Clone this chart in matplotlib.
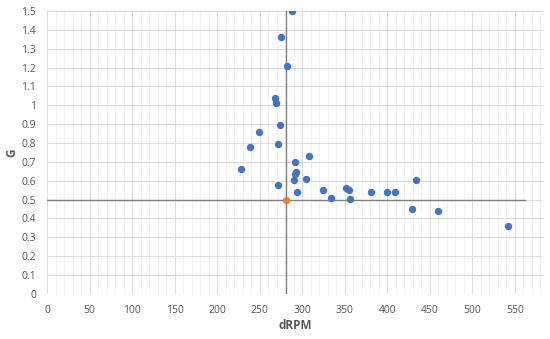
import matplotlib
matplotlib.use("Agg")
import matplotlib.pyplot as plt
from matplotlib.ticker import MultipleLocator

plt.rcParams['font.family'] = ['Open Sans', 'DejaVu Sans']

drpm = [288, 275, 282, 268, 269.5, 274, 249.5, 239, 271, 308, 291, 228, 293, 292,
        290, 305, 272, 293.4, 324, 334, 352, 354.5, 356, 380.7, 399.5, 409.7, 433.6,
        429.7, 460, 542.5]
g = [1.5, 1.36, 1.21, 1.04, 1.014, 0.894, 0.86, 0.78, 0.793, 0.73, 0.70, 0.661, 0.648, 0.638,
     0.603, 0.61, 0.58, 0.54, 0.553, 0.509, 0.56, 0.551, 0.502, 0.54, 0.54, 0.54, 0.602,
     0.45, 0.44, 0.362]
target_x = [280.5]
target_y = [0.5]
ref_vx = 280.5
ref_hy = 0.5
ref_hx_end = 562

fig = plt.figure(figsize=(5.5, 3.39), dpi=100)
ax = fig.add_axes([0.0855, 0.133, 0.9015, 0.8346])
ax.set_xlim(0, 583)
ax.set_ylim(0, 1.5)
ax.xaxis.set_minor_locator(MultipleLocator(10))
ax.yaxis.set_major_locator(MultipleLocator(0.1))
ax.set_xticks(range(0, 551, 50))
ax.grid(which='major', color='#dedede', linewidth=0.8)
ax.grid(which='minor', axis='x', color='#f0f0f0', linewidth=0.6)
ax.set_axisbelow(True)
for s in ax.spines.values():
    s.set_visible(False)
ax.tick_params(which='both', length=0, colors='#595959', labelsize=7.5)
ax.tick_params(axis='x', pad=8)
ax.tick_params(axis='y', pad=8)
ax.yaxis.set_major_formatter(matplotlib.ticker.FuncFormatter(
    lambda v, p: f"{v:.1f}".rstrip('0').rstrip('.') if abs(v) > 1e-9 else "0"))

ax.plot([ref_vx, ref_vx], [0, 1.5], color='#808080', linewidth=1.0, zorder=2)
ax.plot([0, ref_hx_end], [ref_hy, ref_hy], color='#808080', linewidth=1.0, zorder=2)
ax.scatter(drpm, g, s=28, color='#4472C4', zorder=3, linewidths=0)
ax.scatter(target_x, target_y, s=28, color='#ED7D31', zorder=4, linewidths=0)

ax.set_xlabel('dRPM', fontsize=8.5, color='#595959', fontweight='bold', va='center')
ax.set_ylabel('G', fontsize=8.5, color='#595959', fontweight='bold', va='center')
ax.xaxis.set_label_coords(0.5, -0.11)
ax.yaxis.set_label_coords(-0.07, 0.5)
fig.savefig('out.png', dpi=100)
